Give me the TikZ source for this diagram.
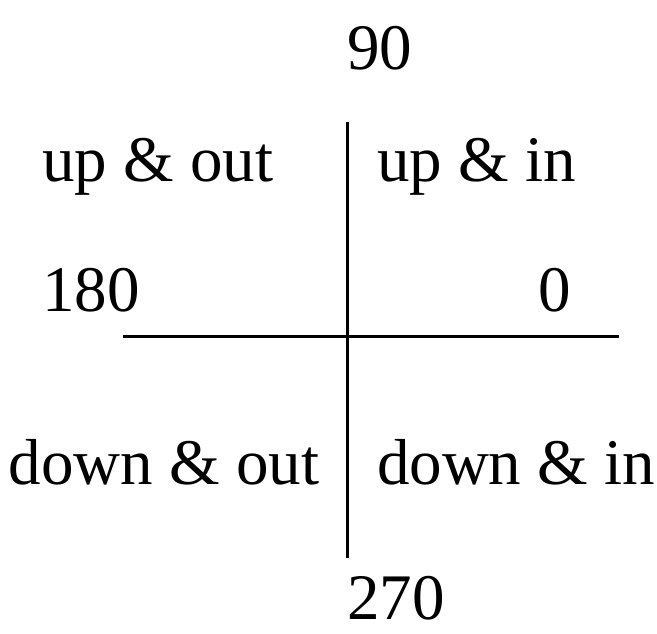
\documentclass[tikz,border=0pt]{standalone}
\usepackage{fontspec}
\setmainfont{Liberation Serif}
\begin{document}
\begin{tikzpicture}[x=1pt,y=1pt,
  lbl/.style={anchor=base west,inner sep=0pt,outer sep=0pt,font=\fontsize{65}{70}\selectfont},
  axis/.style={line width=3pt,black}]
\useasboundingbox (0,0) rectangle (657,634);
\fill[white] (0,0) rectangle (657,634);
\coordinate (vtop) at (347,512);
\coordinate (vbot) at (347,76);
\coordinate (hl) at (123,297);
\coordinate (hr) at (619,297);
\draw[axis] (vtop) -- (vbot);
\draw[axis] (hl) -- (hr);
\node[lbl] (n90) at (347,564) {90};
\node[lbl] (uo) at (42,452) {up \& out};
\node[lbl] (ui) at (377,452) {up \& in};
\node[lbl] (n180) at (42,322) {180};
\node[lbl] (n0) at (538,322) {0};
\node[lbl] (dout) at (9,149) {down \& out};
\node[lbl] (din) at (377,149) {down \& in};
\node[lbl] (n270) at (347,14) {270};
\end{tikzpicture}
\end{document}
